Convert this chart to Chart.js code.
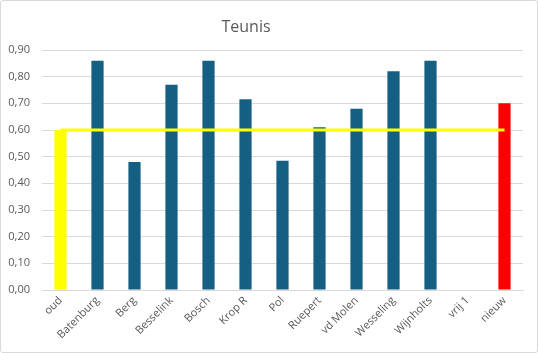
<!DOCTYPE html>
<html><head><meta charset="utf-8">
<script src="https://cdn.jsdelivr.net/npm/chart.js@4"></script>
<style>
html,body{margin:0;padding:0;background:#fff;}
#wrap{position:absolute;left:0;top:0;width:536px;height:351px;border:1px solid #d9d9d9;border-radius:3px;}
canvas{display:block;}
</style></head>
<body><div id="wrap"><canvas id="c" width="536" height="351"></canvas></div>
<script>
const categories = ['oud','Batenburg','Berg','Besselink','Bosch','Krop R','Pol','Ruepert','vd Molen','Wesseling','Wijnholts','vrij 1','nieuw'];
const scores = [0.60, 0.86, 0.48, 0.77, 0.86, 0.715, 0.485, 0.61, 0.68, 0.82, 0.86, null, 0.70];
const norm = [0.60, 0.60, 0.60, 0.60, 0.60, 0.60, 0.60, 0.60, 0.60, 0.60, 0.60, 0.60, 0.60];
const yTicks = [0, 0.1, 0.2, 0.3, 0.4, 0.5, 0.6, 0.7, 0.8, 0.9];
const titleText = 'Teunis';

const barColors = categories.map(c => c === 'oud' ? '#FFFF00' : (c === 'nieuw' ? '#FF0000' : '#156082'));
const FONT = "'Open Sans', sans-serif";

const titlePlugin = {
  id: 'customTitle',
  afterDraw(chart) {
    const ctx = chart.ctx;
    ctx.save();
    ctx.font = "16px " + FONT;
    ctx.fillStyle = '#595959';
    ctx.textAlign = 'center';
    ctx.textBaseline = 'middle';
    ctx.fillText(titleText, 245, 26);
    ctx.restore();
  }
};

new Chart(document.getElementById('c'), {
  data: {
    labels: categories,
    datasets: [
      { type: 'line', data: norm, borderColor: '#FFFF00', borderWidth: 3, pointRadius: 0, fill: false, order: 0 },
      { type: 'bar', data: scores, backgroundColor: barColors, borderWidth: 0, barPercentage: 0.33, categoryPercentage: 1, order: 1 }
    ]
  },
  plugins: [titlePlugin],
  options: {
    responsive: false,
    animation: false,
    layout: { padding: { left: 0, right: 14, top: 49, bottom: 0 } },
    plugins: {
      legend: { display: false },
      tooltip: { enabled: false },
      title: { display: false }
    },
    scales: {
      x: {
        offset: true,
        grid: { display: false, drawTicks: false },
        border: { color: '#d9d9d9' },
        afterFit: s => { s.height = 62; },
        ticks: { color: '#595959', font: { family: FONT, size: 11 }, maxRotation: 45, minRotation: 45, padding: 4, autoSkip: false }
      },
      y: {
        min: 0, max: 0.9,
        afterBuildTicks: s => { s.ticks = yTicks.map(v => ({ value: v })); },
        afterFit: s => { s.width = 41; },
        grid: { color: '#d9d9d9', drawTicks: false },
        border: { display: false },
        ticks: { color: '#595959', font: { family: FONT, size: 11 }, padding: 12, callback: v => v.toFixed(2).replace('.', ',') }
      }
    }
  }
});
</script></body></html>
